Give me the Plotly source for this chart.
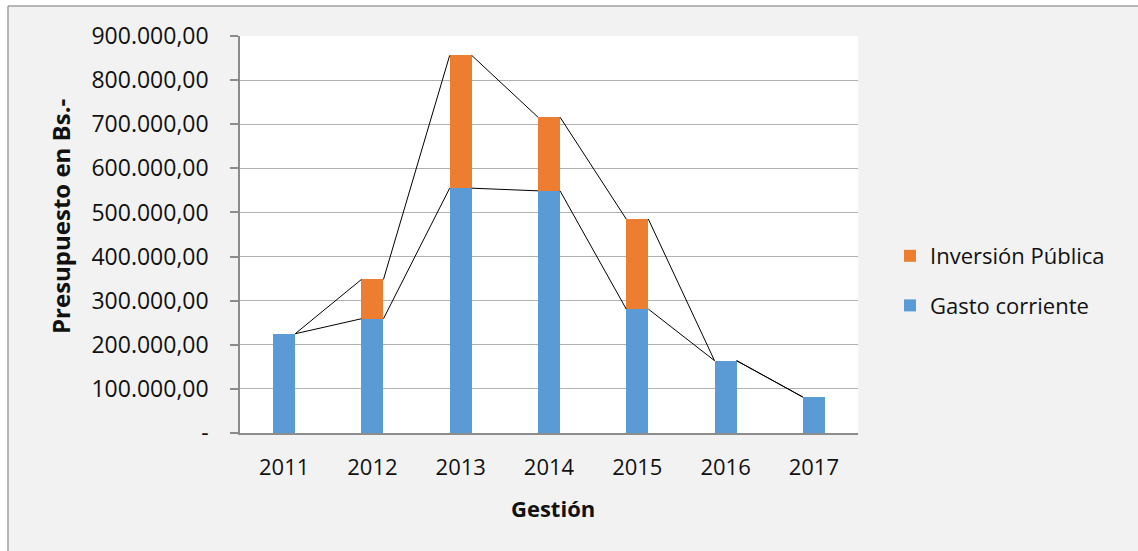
import plotly.graph_objects as go

# Presupuesto por gestión (Bs.)
years = ["2011", "2012", "2013", "2014", "2015", "2016", "2017"]
gasto_corriente = [225000, 259000, 555000, 549000, 281000, 164000, 81500]
inversion_publica = [0, 89000, 301000, 167000, 204000, 0, 0]
y_ticks = [0, 100000, 200000, 300000, 400000, 500000, 600000, 700000, 800000, 900000]

BAR_W = 0.25
BLUE = "#5B9BD5"
ORANGE = "#ED7D31"
FONT = "Open Sans"
TXT = "#111111"


def fmt_bs(v):
    if v == 0:
        return "-"
    s = f"{v:,.2f}"
    return s.replace(",", "X").replace(".", ",").replace("X", ".")


xs = list(range(len(years)))
totals = [g + i for g, i in zip(gasto_corriente, inversion_publica)]

fig = go.Figure()
fig.add_trace(go.Bar(
    x=xs, y=gasto_corriente, name="Gasto corriente", width=BAR_W,
    marker=dict(color=BLUE, line=dict(width=0)), legendgroup="g", legendrank=2,
))
fig.add_trace(go.Bar(
    x=xs, y=inversion_publica, name="Inversión Pública", width=BAR_W,
    marker=dict(color=ORANGE, line=dict(width=0)), legendgroup="i", legendrank=1,
))


# series lines joining the top of each stacked segment to the next column
def series_line(tops):
    lx, ly = [], []
    for k in range(len(tops) - 1):
        lx += [xs[k] + BAR_W / 2, xs[k + 1] - BAR_W / 2, None]
        ly += [tops[k], tops[k + 1], None]
    return lx, ly


for tops in (gasto_corriente, totals):
    lx, ly = series_line(tops)
    fig.add_trace(go.Scatter(
        x=lx, y=ly, mode="lines", line=dict(color="black", width=1),
        showlegend=False, hoverinfo="skip",
    ))

# plot area geometry in pixels
W, H = 1138, 551
L, R, T, B = 240, 858, 36, 433
pw, ph = R - L, B - T


def px_x(p):
    return (p - L) / pw


def px_y(p):
    return (B - p) / ph


shapes = [
    # white strips outside the chart frame
    dict(type="rect", xref="paper", yref="paper", x0=px_x(-5), x1=px_x(8),
         y0=px_y(W), y1=px_y(-5), fillcolor="white", line=dict(width=0), layer="below"),
    dict(type="rect", xref="paper", yref="paper", x0=px_x(-5), x1=px_x(W + 5),
         y0=px_y(6), y1=px_y(-5), fillcolor="white", line=dict(width=0), layer="below"),
    # chart frame
    dict(type="line", xref="paper", yref="paper", x0=px_x(8), x1=px_x(8),
         y0=px_y(6), y1=px_y(H + 10), line=dict(color="#a0a0a0", width=1.5)),
    dict(type="line", xref="paper", yref="paper", x0=px_x(8), x1=px_x(W + 10),
         y0=px_y(6), y1=px_y(6), line=dict(color="#a0a0a0", width=1.5)),
]

annotations = [
    dict(text="<b>Presupuesto en Bs.-</b>", xref="paper", yref="paper",
         x=px_x(60), y=px_y(216), textangle=-90, showarrow=False,
         font=dict(family=FONT, size=24, color=TXT), xanchor="center", yanchor="middle"),
    dict(text="<b>Gestión</b>", xref="paper", yref="paper",
         x=px_x(553), y=px_y(508), showarrow=False,
         font=dict(family=FONT, size=22, color=TXT), xanchor="center", yanchor="middle"),
]

fig.update_layout(
    width=W, height=H,
    margin=dict(l=L, r=W - R, t=T, b=H - B, pad=0),
    paper_bgcolor="#f2f2f2", plot_bgcolor="white",
    barmode="stack", bargap=0,
    font=dict(family=FONT, size=22, color=TXT),
    separators=",.",
    shapes=shapes, annotations=annotations,
    legend=dict(
        x=px_x(890), y=px_y(281), xanchor="left", yanchor="middle",
        traceorder="grouped", tracegroupgap=18,
        font=dict(family=FONT, size=22, color=TXT), bgcolor="rgba(0,0,0,0)",
        itemwidth=30,
    ),
    xaxis=dict(
        range=[-0.5, len(years) - 0.5], tickvals=xs, ticktext=years,
        showgrid=False, zeroline=False, showline=True, linecolor="#8c8c8c",
        linewidth=1.5, ticks="", ticklabelstandoff=14,
        tickfont=dict(family=FONT, size=22, color=TXT), fixedrange=True,
    ),
    yaxis=dict(
        range=[0, 900000], tickvals=y_ticks, ticktext=[fmt_bs(v) for v in y_ticks],
        showgrid=True, gridcolor="#b0b0b0", gridwidth=1.2, zeroline=False,
        showline=True, linecolor="#8c8c8c", linewidth=1.5,
        ticks="outside", ticklen=8, tickcolor="#8c8c8c", tickwidth=1.5,
        ticklabelstandoff=17,
        tickfont=dict(family=FONT, size=23, color=TXT), fixedrange=True,
    ),
)

fig.write_html("out.html")
